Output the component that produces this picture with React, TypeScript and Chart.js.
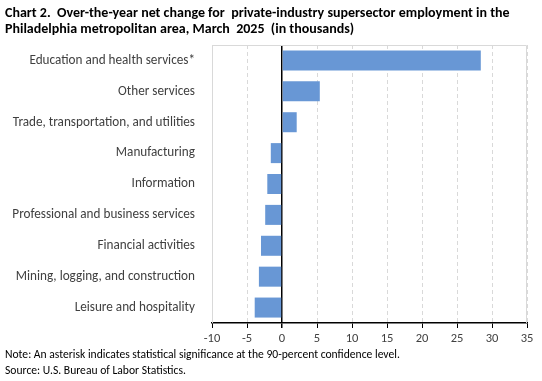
import React, { useEffect, useRef } from 'react';
import { Chart, registerables } from 'chart.js';
Chart.register(...registerables);

const categories = [
  'Education and health services*',
  'Other services',
  'Trade, transportation, and utilities',
  'Manufacturing',
  'Information',
  'Professional and business services',
  'Financial activities',
  'Mining, logging, and construction',
  'Leisure and hospitality',
];
const values = [28.4, 5.4, 2.1, -1.6, -2.1, -2.4, -3.0, -3.3, -3.9];
const xMin = -10;
const xMax = 35;
const xStep = 5;
const titleLines = [
  'Chart 2.  Over-the-year net change for  private-industry supersector employment in the',
  'Philadelphia metropolitan area, March  2025  (in thousands)',
];
const noteLines = [
  'Note: An asterisk indicates statistical significance at the 90-percent confidence level.',
  'Source: U.S. Bureau of Labor Statistics.',
];

const FONT = 'Carlito, Lato, sans-serif';

export default function App() {
  const ref = useRef<HTMLCanvasElement | null>(null);
  useEffect(() => {
    document.body.style.margin = '0';
    const canvas = ref.current!;
    const decor = {
      id: 'decor',
      beforeDatasetsDraw(chart: any) {
        const { ctx, chartArea: a } = chart;
        ctx.save();
        ctx.strokeStyle = '#d9d9d9';
        ctx.lineWidth = 1;
        ctx.beginPath();
        ctx.moveTo(a.left + 0.5, a.bottom);
        ctx.lineTo(a.left + 0.5, a.top + 0.5);
        ctx.lineTo(a.right - 0.5, a.top + 0.5);
        ctx.lineTo(a.right - 0.5, a.bottom);
        ctx.stroke();
        ctx.restore();
      },
      afterDraw(chart: any) {
        const { ctx } = chart;
        ctx.save();
        ctx.fillStyle = '#000';
        ctx.textBaseline = 'middle';
        ctx.textAlign = 'left';
        ctx.font = `bold 14px ${FONT}`;
        titleLines.forEach((t, i) => ctx.fillText(t, 5, 13 + i * 16));
        ctx.font = `11.6px ${FONT}`;
        noteLines.forEach((t, i) => ctx.fillText(t, 5, 355 + i * 16));
        ctx.restore();
      },
    };
    const isZero = (c: any) => c.tick && c.tick.value === 0;
    const chart = new Chart(canvas, {
      type: 'bar',
      data: {
        labels: categories,
        datasets: [
          {
            data: values,
            backgroundColor: '#6897d5',
            borderWidth: 0,
            barPercentage: 0.81,
            categoryPercentage: 0.8,
          },
        ],
      },
      options: {
        indexAxis: 'y',
        responsive: false,
        animation: false,
        devicePixelRatio: 1,
        layout: { padding: { top: 45, right: 15, left: 0, bottom: 0 } },
        plugins: { legend: { display: false }, tooltip: { enabled: false }, title: { display: false } },
        scales: {
          x: {
            min: xMin,
            max: xMax,
            ticks: { stepSize: xStep, color: '#404040', font: { family: FONT, size: 12.5 }, padding: 3 },
            grid: {
              color: (c: any) => (isZero(c) ? '#000' : '#d9d9d9'),
              lineWidth: (c: any) => (isZero(c) ? 1.5 : 1),
              tickColor: '#000',
              tickLength: 5,
              tickBorderDash: [],
            } as any,
            border: {
              display: true,
              color: '#000',
              width: 1.5,
              dash: (c: any) => (c.tick && c.tick.value !== 0 ? [4, 3] : []),
            } as any,
            afterFit: (s: any) => {
              s.height = 58;
            },
          },
          y: {
            grid: { display: false, drawTicks: false },
            border: { display: false },
            ticks: { color: '#404040', font: { family: FONT, size: 13.2 }, padding: 17, autoSkip: false },
            afterFit: (s: any) => {
              s.width = 212;
            },
          },
        },
      },
      plugins: [decor],
    } as any);
    return () => chart.destroy();
  }, []);
  return <canvas ref={ref} width={542} height={381} style={{ display: 'block' }} />;
}
